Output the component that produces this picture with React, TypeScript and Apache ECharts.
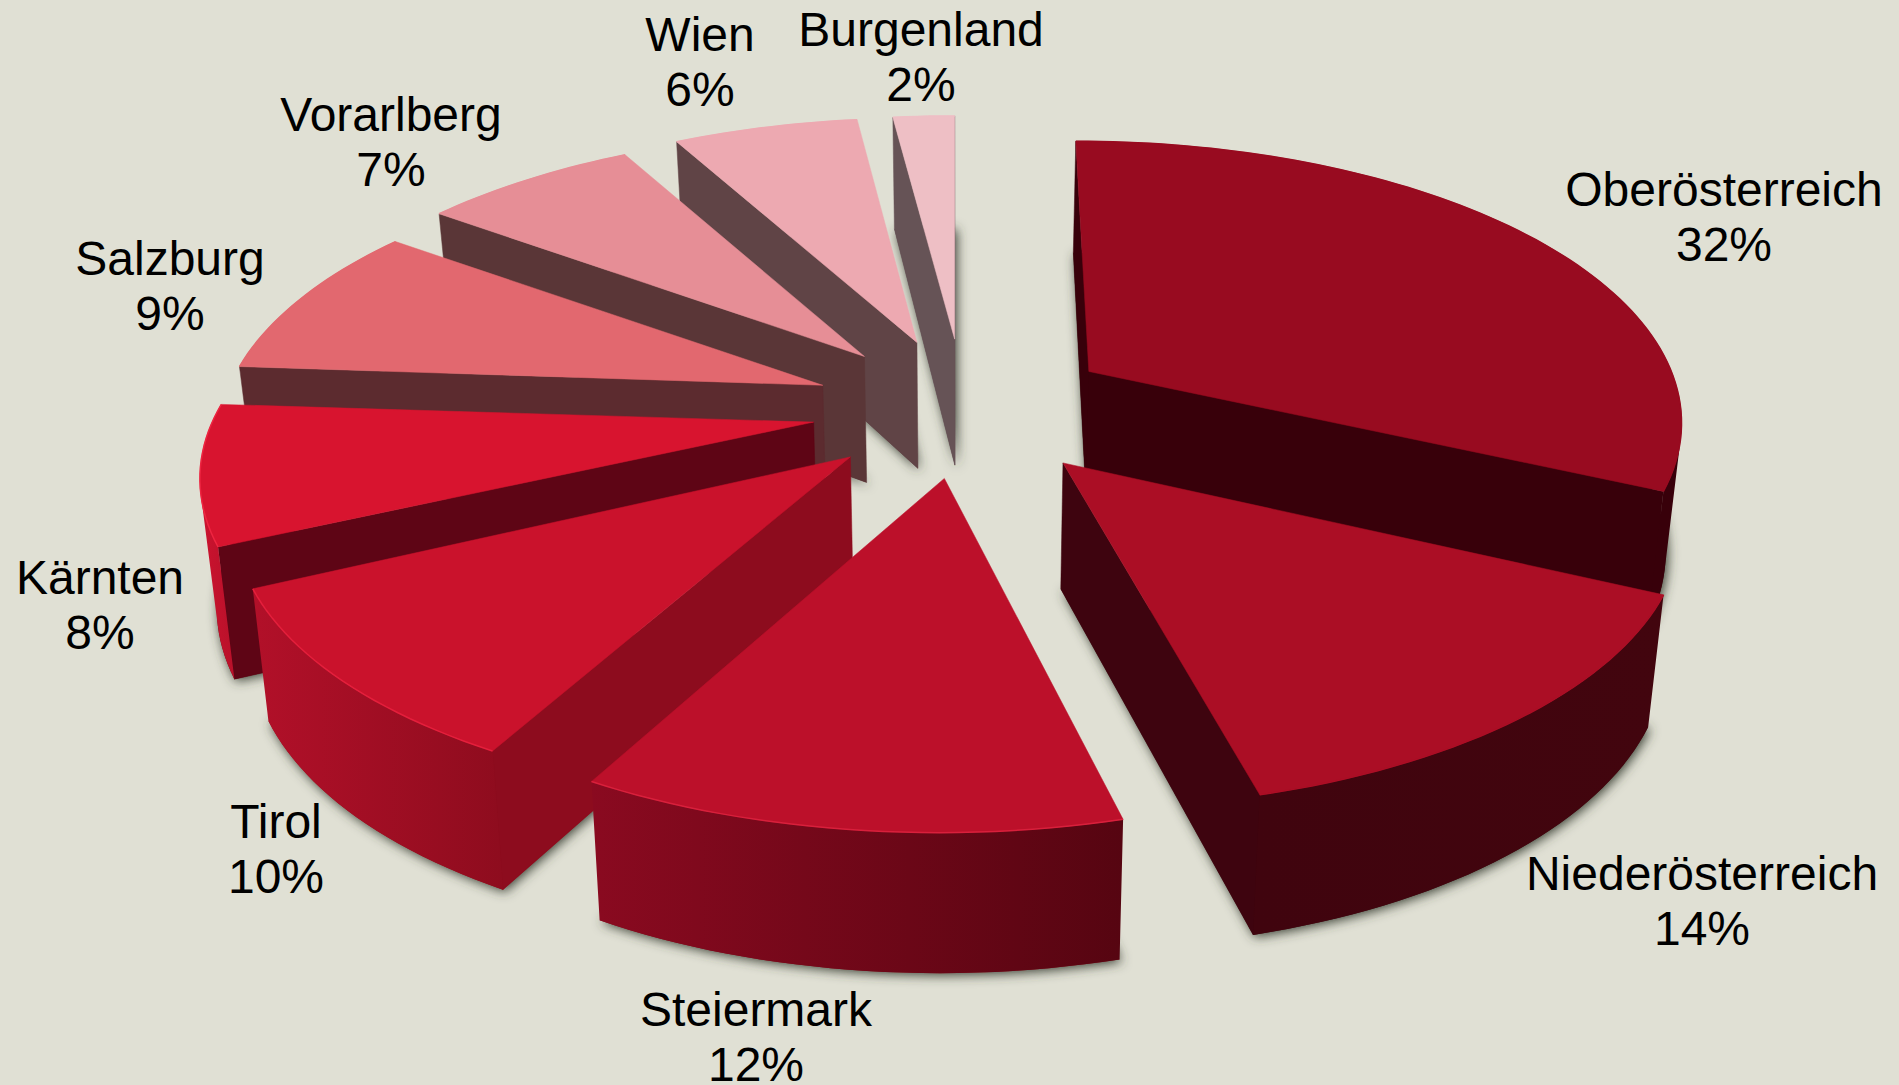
import React, { useEffect, useRef } from "react";
import * as echarts from "echarts";

const names = ["Oberösterreich", "Niederösterreich", "Steiermark", "Tirol", "Kärnten", "Salzburg", "Vorarlberg", "Wien", "Burgenland"];
const shares = [32, 14, 12, 10, 8, 9, 7, 6, 2];

// painter's order, back to front (indices into names)
const paintOrder = [8, 7, 6, 5, 4, 0, 3, 1, 2];

// styles, by slice
const topColors = ["#980B20", "#AB0E25", "#BC102A", "#CA122C", "#D8142F", "#E2686F", "#E68E96", "#EDA9B1", "#EEBFC5"];
const cutColors = ["#38000A", "#3E040F", "#7A0A1C", "#8D0C1E", "#5E0515", "#5C2B2F", "#5A3637", "#604446", "#665356"];
const rimLeft = ["#38000A", "#40040E", "#8A0A20", "#B21029", "#CC132F", "#B03040", "#B06068", "#C08088", "#C8A0A4"];
const rimRight = ["#38000A", "#42050E", "#560511", "#8E0C1E", "#B8112A", "#B03040", "#B06068", "#C08088", "#C8A0A4"];
const edgeColors = ["#980B20", "#AB0E25", "#D8203C", "#E41F3C", "#EE2440", "#E2686F", "#E68E96", "#EDA9B1", "#EEBFC5"];

// label centres in page pixels
const labelX = [1724, 1702, 756, 276, 100, 170, 391, 700, 921];
const labelY = [217, 901, 1037, 849, 605, 286, 142, 62, 57];

// small per-slice nudges of the arc relative to the slice's tip, in page pixels
const arcNudgeX = [-13, 18, -5, -14, -11, 1, 3, 2, 1];
const arcNudgeY = [-6, 6, 15, 6, -1, -2, -1, 0, 1];
const tipNudgeX = [0, 5, 0, -4, -3, 0, 0, 0, 1];

// projection
const CX = 963, CY = 409;      // centre of the pie
const EX = 149, EY = 70;       // explosion distance
const RX = 593, RY = 270;      // radii before perspective
const K = 0.204;               // perspective strength
const DEPTH = 126, DEPTH_V = 14.5; // thickness
const NADIR = 0.022;           // sides converge downwards
const TAU = Math.PI * 2;

const offsets = shares.reduce<number[]>((acc, v, i) => { acc.push(i === 0 ? 0 : acc[i - 1] + shares[i - 1]); return acc; }, []);
const total = shares.reduce((a, b) => a + b, 0);
const seriesData = paintOrder.map((i) => [i, offsets[i], shares[i]]);
const labelData = names.map((_, i) => [i, shares[i]]);

type P = [number, number];

function renderSlice(_: any, api: any) {
  const idx = api.value(0) as number;
  const a0 = ((api.value(1) as number) / total) * TAU;
  const a1 = a0 + ((api.value(2) as number) / total) * TAU;
  const mid = (a0 + a1) / 2;
  const ax = CX + EX * Math.sin(mid) + tipNudgeX[idx];
  const ay = CY - EY * Math.cos(mid);
  const arcX = ax - tipNudgeX[idx] + arcNudgeX[idx];
  const arcY = ay + arcNudgeY[idx];

  const rim = (u: number, v: number): P => {
    const s = 1 / (1 - K * v);
    return [arcX + RX * u * s, arcY + RY * v * s];
  };
  const down = (p: P, v: number): P => [p[0] + (CX - p[0]) * NADIR, p[1] + DEPTH + DEPTH_V * v];

  const apexT: P = [ax, ay];
  const apexB = down(apexT, 0);
  const arcT: P[] = [], arcB: P[] = [];
  const n = Math.max(4, Math.round((a1 - a0) * 40));
  for (let i = 0; i <= n; i++) {
    const a = a0 + ((a1 - a0) * i) / n;
    const u = Math.sin(a), v = -Math.cos(a);
    const p = rim(u, v);
    arcT.push(p);
    arcB.push(down(p, v));
  }

  const area = (pts: P[]) => {
    let s = 0;
    for (let i = 0; i < pts.length; i++) {
      const q = pts[(i + 1) % pts.length];
      s += pts[i][0] * q[1] - q[0] * pts[i][1];
    }
    return s / 2;
  };

  const children: any[] = [];
  const poly = (points: P[], style: any) => children.push({ type: "polygon", silent: true, shape: { points }, style });

  // footprint, which casts the soft shadow on the ground
  poly([apexB, ...arcB], {
    fill: cutColors[idx],
    shadowBlur: 12,
    shadowColor: "rgba(55,60,50,1)",
    shadowOffsetX: 2,
    shadowOffsetY: 2,
  });

  const startFace: P[] = [apexT, arcT[0], arcB[0], apexB];
  const lastT = arcT[n], lastB = arcB[n];
  const endFace: P[] = [lastT, apexT, apexB, lastB];
  if (area(startFace) < 0) poly(startFace, { fill: cutColors[idx], stroke: cutColors[idx], lineWidth: 0.5 });
  if (area(endFace) < 0) poly(endFace, { fill: cutColors[idx], stroke: cutColors[idx], lineWidth: 0.5 });

  // outer wall: only the quads that face the viewer
  const wall = { type: "linear", x: 0, y: 0, x2: 1, y2: 0, colorStops: [{ offset: 0, color: rimLeft[idx] }, { offset: 1, color: rimRight[idx] }] };
  const wallPts: P[] = [];
  const wallLow: P[] = [];
  for (let i = 0; i < n; i++) {
    const q: P[] = [arcT[i], arcT[i + 1], arcB[i + 1], arcB[i]];
    if (area(q) < 0) {
      if (!wallPts.length) { wallPts.push(arcT[i]); wallLow.push(arcB[i]); }
      wallPts.push(arcT[i + 1]);
      wallLow.push(arcB[i + 1]);
    }
  }
  if (wallPts.length) poly([...wallPts, ...wallLow.reverse()], { fill: wall });

  // top face and its lit edge
  poly([apexT, ...arcT], { fill: topColors[idx], stroke: topColors[idx], lineWidth: 0.5 });
  children.push({ type: "polyline", silent: true, shape: { points: arcT }, style: { fill: "none", stroke: edgeColors[idx], lineWidth: 1.5 } });

  return { type: "group", children };
}

function renderLabel(_: any, api: any) {
  const i = api.value(0) as number;
  return {
    type: "text",
    silent: true,
    x: labelX[i],
    y: labelY[i],
    style: {
      text: `${names[i]}\n${api.value(1)}%`,
      fill: "#000000",
      font: '48px "Liberation Sans", Arial, sans-serif',
      lineHeight: 55.6,
      textAlign: "center",
      textVerticalAlign: "middle",
    },
  };
}

export default function App() {
  const ref = useRef<HTMLDivElement>(null);
  useEffect(() => {
    document.body.style.margin = "0";
    const chart = echarts.init(ref.current!, null, { renderer: "svg" });
    chart.setOption({
      animation: false,
      backgroundColor: "#E0E0D4",
      series: [
        { type: "custom", coordinateSystem: "none", renderItem: renderSlice, data: seriesData, z: 2 },
        { type: "custom", coordinateSystem: "none", renderItem: renderLabel, data: labelData, z: 3 },
      ],
    });
    return () => chart.dispose();
  }, []);
  return <div ref={ref} style={{ position: "absolute", left: 0, top: 0, width: 1899, height: 1085 }} />;
}
